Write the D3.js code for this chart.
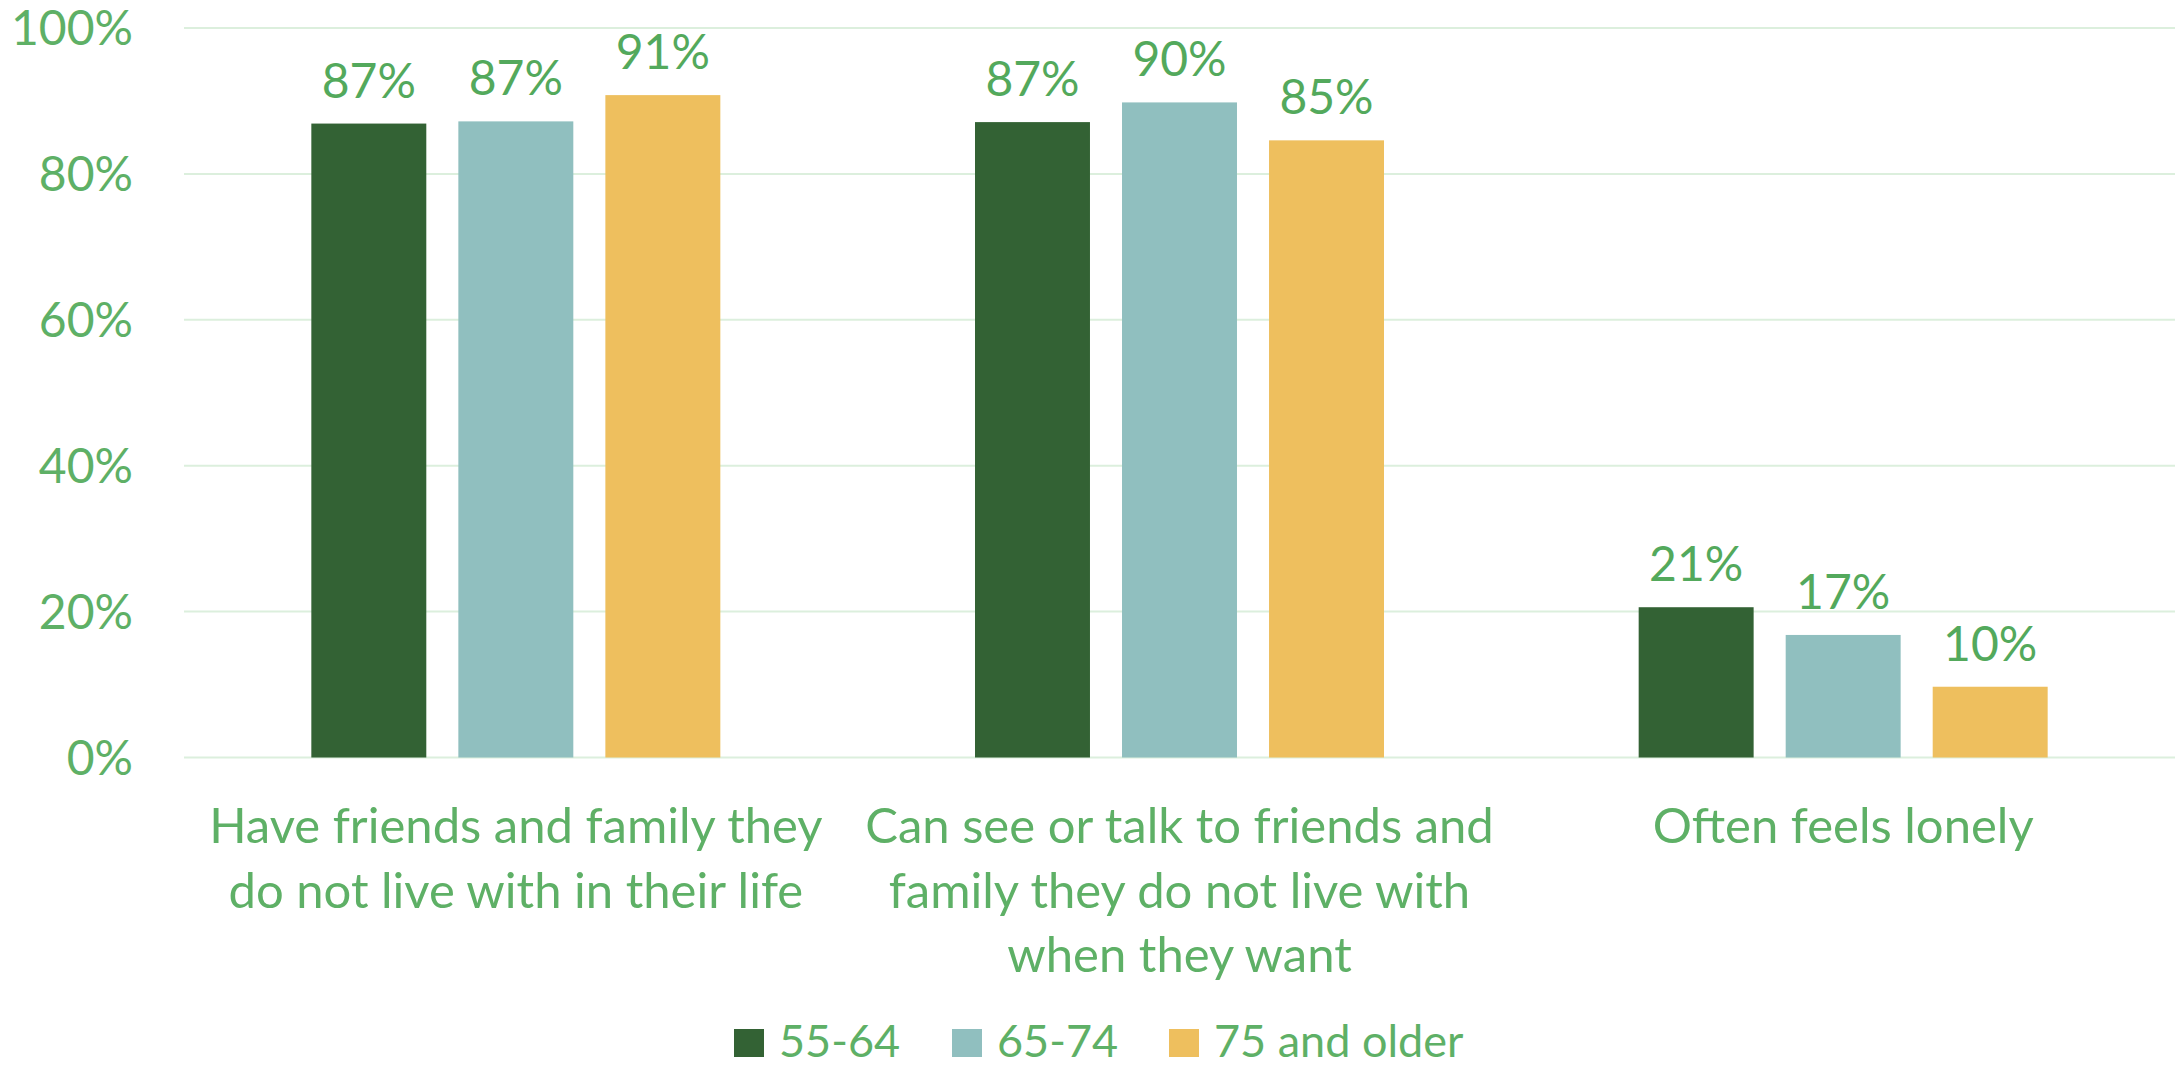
<!DOCTYPE html>
<html>
<head>
<meta charset="utf-8">
<script src="https://cdn.jsdelivr.net/npm/d3@7"></script>
<style>
  html, body { margin: 0; padding: 0; background: #ffffff; }
  svg { display: block; }
  text { font-family: Lato, "Noto Sans", sans-serif; }
</style>
</head>
<body>
<svg id="chart" width="2178" height="1067"></svg>
<script>
// ---- data ----
const categories = [
  "Have friends and family they do not live with in their life",
  "Can see or talk to friends and family they do not live with when they want",
  "Often feels lonely"
];
const categoryLines = [
  ["Have friends and family they", "do not live with in their life"],
  ["Can see or talk to friends and", "family they do not live with", "when they want"],
  ["Often feels lonely"]
];
const seriesNames = ["55-64", "65-74", "75 and older"];
const values_55_64 = [86.9, 87.1, 20.6];
const values_65_74 = [87.2, 89.8, 16.8];
const values_75_older = [90.8, 84.6, 9.7];
const yTicks = [0, 20, 40, 60, 80, 100];

(function () {
const seriesValues = [values_55_64, values_65_74, values_75_older];
const colors = ["#336234", "#90BFBF", "#EEBF5E"];
const textColor = "#5EB066";
const labelColor = "#53A95C";
const gridColor = "#DCEFDD";

// ---- layout ----
const svg = d3.select("#chart");
const plotLeft = 184, plotRight = 2175, plotTop = 28, plotBottom = 757.5;

const x0 = d3.scaleBand().domain(d3.range(categories.length)).range([plotLeft, plotRight]).paddingInner(0).paddingOuter(0);
const groupHalf = 204.5;
const x1 = d3.scaleBand().domain(d3.range(seriesNames.length)).range([-groupHalf, groupHalf]).paddingInner(0.218).paddingOuter(0);
const y = d3.scaleLinear().domain([0, 100]).range([plotBottom, plotTop]);

// gridlines
svg.append("g").selectAll("line").data(yTicks).join("line")
  .attr("x1", plotLeft).attr("x2", plotRight)
  .attr("y1", d => y(d)).attr("y2", d => y(d))
  .attr("stroke", gridColor).attr("stroke-width", 2);

// y labels
svg.append("g").selectAll("text").data(yTicks).join("text")
  .attr("x", 133).attr("y", d => y(d)).attr("dy", "0.36em")
  .attr("text-anchor", "end").attr("fill", textColor)
  .attr("font-size", 48).text(d => d + "%");

// bars
const flat = [];
categories.forEach((c, ci) => seriesValues.forEach((vals, si) => flat.push({ci, si, v: vals[ci]})));
const cx = ci => x0(ci) + x0.bandwidth() / 2;

svg.append("g").selectAll("rect").data(flat).join("rect")
  .attr("x", d => cx(d.ci) + x1(d.si))
  .attr("width", x1.bandwidth())
  .attr("y", d => y(d.v))
  .attr("height", d => y(0) - y(d.v))
  .attr("fill", d => colors[d.si]);

// data labels
svg.append("g").selectAll("text").data(flat).join("text")
  .attr("x", d => cx(d.ci) + x1(d.si) + x1.bandwidth() / 2)
  .attr("y", d => y(d.v) - 26)
  .attr("text-anchor", "middle").attr("fill", labelColor)
  .attr("font-size", 48).text(d => Math.round(d.v) + "%");

// category labels
const cat = svg.append("g").selectAll("text").data(categoryLines).join("text")
  .attr("text-anchor", "middle").attr("fill", textColor).attr("font-size", 49);
cat.each(function(lines, ci) {
  d3.select(this).selectAll("tspan").data(lines).join("tspan")
    .attr("x", cx(ci)).attr("y", (d, i) => 843 + i * 64.5).text(d => d);
});

// legend
const legendX = [734, 952, 1169];
const lg = svg.append("g").selectAll("g").data(seriesNames).join("g");
lg.append("rect").attr("x", (d, i) => legendX[i]).attr("y", 1029)
  .attr("width", 30).attr("height", 28).attr("fill", (d, i) => colors[i]);
lg.append("text").attr("x", (d, i) => legendX[i] + 45).attr("y", 1057)
  .attr("fill", textColor).attr("font-size", 45).text(d => d);
})();
</script>
</body>
</html>
